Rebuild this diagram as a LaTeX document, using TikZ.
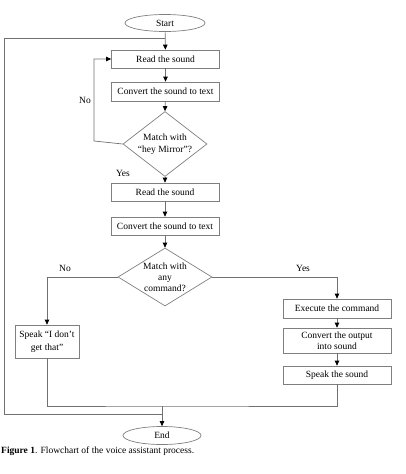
\documentclass[tikz,border=0pt]{standalone}
\usepackage{fontspec}
\setmainfont{Liberation Serif}
\usetikzlibrary{shapes.geometric,arrows.meta}
\definecolor{boxgray}{HTML}{7F7F7F}
\definecolor{linegray}{HTML}{707070}
\begin{document}
\begin{tikzpicture}[x=1pt,y=-1pt,
  every node/.style={font=\fontsize{9.5}{11}\selectfont, inner sep=0pt},
  procbox/.style={draw=boxgray, line width=0.7pt, rectangle, minimum width=108pt, align=center},
  termnode/.style={draw=boxgray, line width=0.7pt, ellipse, minimum width=80pt, minimum height=17pt},
  decision/.style={draw=boxgray, line width=0.7pt, diamond, inner sep=0pt},
  conn/.style={draw=linegray, line width=0.7pt},
  arr/.style={conn, -{Triangle[width=4.5pt,length=5pt,fill=black,color=black]}},
  lbl/.style={font=\fontsize{9.5}{11}\selectfont}
]
\useasboundingbox (0,0) rectangle (405,474);

% nodes
\node[termnode] (start) at (165,23) {Start};
\node[procbox, minimum height=18pt] (read1) at (165.5,59) {Read the sound};
\node[procbox, minimum height=19pt] (conv1) at (165.5,91.5) {Convert the sound to text};
\node[decision, minimum width=84pt, minimum height=65pt,
  label={[align=center, font=\fontsize{9.5}{12.5}\selectfont]center:Match with\\“hey Mirror”?}] (dia1) at (165,144) {};
\node[procbox, minimum height=18pt] (read2) at (165,192) {Read the sound};
\node[procbox, minimum height=18pt] (conv2) at (165,226) {Convert the sound to text};
\node[decision, minimum width=94pt, minimum height=58pt,
  label={[align=center, font=\fontsize{9.5}{11}\selectfont]center:Match with\\any\\command?}] (dia2) at (165,277) {};
\node[procbox, minimum height=19pt] (exec) at (337,308.5) {Execute the command};
\node[procbox, minimum height=25pt, font=\fontsize{9.5}{11.5}\selectfont] (convout) at (337,340.5) {Convert the output\\into sound};
\node[procbox, minimum height=18pt] (speak) at (337,375) {Speak the sound};
\node[procbox, minimum width=64pt, minimum height=33pt, font=\fontsize{9.5}{13}\selectfont] (nope) at (47,341.5) {Speak “I don’t\\get that”};
\node[termnode, minimum width=78pt, minimum height=18pt] (end) at (162,435.5) {End};

% helper coordinates
\coordinate (j1) at (165,38);
\coordinate (lt) at (4,38);
\coordinate (lb) at (4,414);
\coordinate (mrg) at (162,406);
\coordinate (nox) at (94,141);

% connectors
\draw[arr] (start) -- (read1);
\draw[arr] (read1) -- (conv1);
\draw[arr] (conv1) -- (dia1.north);
\draw[arr] (dia1.west) -- (nox) |- (read1.west);
\draw[arr] (dia1.south) -- (read2);
\draw[arr] (read2) -- (conv2);
\draw[arr] (conv2) -- (dia2.north);
\draw[arr] (dia2.west) -| (nope.north);
\draw[arr] (dia2.east) -| (exec.north);
\draw[arr] (exec) -- (convout);
\draw[arr] (convout) -- (speak);
\draw[conn] (speak.south) |- (mrg) -| (nope.south);
\draw[arr] (mrg) -- (end.north);
\draw[conn] (end.north |- lb) -- (lb) -- (lt) -- (j1);

% labels
\node[lbl] (lno1) at (85,100) {No};
\node[lbl] (lyes1) at (123,173) {Yes};
\node[lbl] (lno2) at (65,268) {No};
\node[lbl] (lyes2) at (303,268) {Yes};

% caption
\node[anchor=base west, font=\fontsize{9.5}{11}\selectfont] (cap) at (1,453) {\textbf{Figure 1}. Flowchart of the voice assistant process.};
\end{tikzpicture}
\end{document}
